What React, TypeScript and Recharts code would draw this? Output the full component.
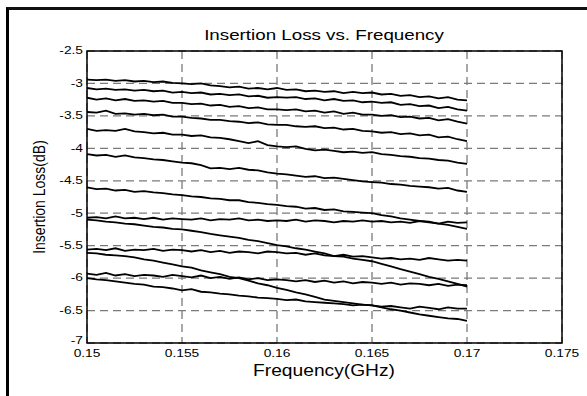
import React from "react"
import {
  LineChart,
  Line,
  XAxis,
  YAxis,
  CartesianGrid,
  ReferenceArea,
} from "recharts"

// frequency points (GHz)
const freqs = [
  0.15, 0.1505, 0.151, 0.1515, 0.152, 0.1525, 0.153, 0.1535, 0.154, 0.1545,
  0.155, 0.1555, 0.156, 0.1565, 0.157, 0.1575, 0.158, 0.1585, 0.159, 0.1595,
  0.16, 0.1605, 0.161, 0.1615, 0.162, 0.1625, 0.163, 0.1635, 0.164, 0.1645,
  0.165, 0.1655, 0.166, 0.1665, 0.167, 0.1675, 0.168, 0.1685, 0.169, 0.1695,
  0.17,
]

const curve1 = [-2.94,-2.95,-2.94,-2.96,-2.95,-2.97,-2.96,-2.98,-2.97,-2.99, -3.00,-3.01,-3.00,-3.03,-3.04,-3.06,-3.05,-3.08,-3.07,-3.09, -3.07,-3.10,-3.09,-3.12,-3.11,-3.13,-3.12,-3.15,-3.13,-3.15, -3.14,-3.17,-3.16,-3.19,-3.18,-3.21,-3.20,-3.23,-3.21,-3.25, -3.26]
const curve2 = [-3.07,-3.09,-3.08,-3.10,-3.09,-3.11,-3.10,-3.12,-3.11,-3.14, -3.13,-3.15,-3.14,-3.17,-3.16,-3.18,-3.17,-3.20,-3.19,-3.22, -3.21,-3.22,-3.21,-3.24,-3.23,-3.26,-3.24,-3.27,-3.26,-3.29, -3.28,-3.30,-3.29,-3.33,-3.32,-3.35,-3.34,-3.38,-3.36,-3.40, -3.42]
const curve3 = [-3.22,-3.25,-3.23,-3.26,-3.24,-3.27,-3.26,-3.28,-3.27,-3.30, -3.30,-3.32,-3.31,-3.34,-3.33,-3.36,-3.35,-3.38,-3.37,-3.40, -3.40,-3.41,-3.40,-3.43,-3.42,-3.45,-3.43,-3.47,-3.45,-3.48, -3.48,-3.50,-3.49,-3.52,-3.51,-3.54,-3.53,-3.57,-3.55,-3.59, -3.62]
const curve4 = [-3.44,-3.45,-3.42,-3.47,-3.46,-3.48,-3.47,-3.49,-3.48,-3.51, -3.51,-3.53,-3.54,-3.56,-3.56,-3.58,-3.59,-3.61,-3.60,-3.63, -3.64,-3.64,-3.66,-3.67,-3.66,-3.69,-3.68,-3.71,-3.70,-3.73, -3.74,-3.76,-3.75,-3.78,-3.77,-3.80,-3.79,-3.83,-3.82,-3.86, -3.89]
const curve5 = [-3.70,-3.73,-3.72,-3.73,-3.70,-3.74,-3.75,-3.77,-3.76,-3.79, -3.79,-3.81,-3.80,-3.83,-3.84,-3.86,-3.89,-3.92,-3.89,-3.95, -3.97,-3.98,-3.97,-4.01,-4.03,-4.02,-4.04,-4.06,-4.05,-4.07, -4.06,-4.09,-4.10,-4.12,-4.13,-4.15,-4.16,-4.18,-4.19,-4.22, -4.24]
const curve6 = [-4.09,-4.11,-4.10,-4.13,-4.11,-4.14,-4.15,-4.17,-4.18,-4.20, -4.22,-4.23,-4.26,-4.31,-4.30,-4.32,-4.30,-4.33,-4.34,-4.37, -4.39,-4.40,-4.42,-4.44,-4.43,-4.46,-4.45,-4.47,-4.49,-4.51, -4.52,-4.53,-4.55,-4.56,-4.58,-4.59,-4.60,-4.62,-4.61,-4.65, -4.67]
const curve7 = [-4.60,-4.63,-4.62,-4.65,-4.64,-4.67,-4.66,-4.68,-4.69,-4.71, -4.72,-4.74,-4.75,-4.77,-4.78,-4.80,-4.80,-4.83,-4.84,-4.86, -4.87,-4.89,-4.90,-4.93,-4.92,-4.95,-4.94,-4.97,-4.98,-4.99, -5.00,-5.03,-5.05,-5.08,-5.10,-5.12,-5.13,-5.16,-5.18,-5.21, -5.24]
const curve8 = [-5.07,-5.06,-5.08,-5.05,-5.08,-5.07,-5.09,-5.07,-5.10,-5.08, -5.09,-5.10,-5.08,-5.11,-5.09,-5.10,-5.08,-5.11,-5.10,-5.12, -5.11,-5.12,-5.10,-5.13,-5.11,-5.12,-5.14,-5.12,-5.13,-5.11, -5.13,-5.12,-5.14,-5.13,-5.15,-5.12,-5.14,-5.16,-5.13,-5.15, -5.14]
const curve9 = [-5.10,-5.11,-5.13,-5.14,-5.16,-5.17,-5.19,-5.21,-5.22,-5.24, -5.25,-5.27,-5.29,-5.32,-5.34,-5.36,-5.38,-5.41,-5.43,-5.46, -5.49,-5.51,-5.54,-5.56,-5.59,-5.62,-5.66,-5.67,-5.70,-5.72, -5.74,-5.78,-5.82,-5.86,-5.90,-5.94,-5.98,-6.01,-6.05,-6.09, -6.13]
const curve10 = [-5.56,-5.55,-5.57,-5.54,-5.58,-5.56,-5.57,-5.55,-5.58,-5.56, -5.57,-5.59,-5.57,-5.60,-5.58,-5.61,-5.59,-5.60,-5.62,-5.59, -5.60,-5.62,-5.61,-5.64,-5.62,-5.65,-5.66,-5.64,-5.67,-5.66, -5.68,-5.70,-5.69,-5.71,-5.70,-5.72,-5.69,-5.71,-5.73,-5.72, -5.73]
const curve11 = [-5.61,-5.62,-5.64,-5.65,-5.66,-5.68,-5.71,-5.73,-5.76,-5.79, -5.82,-5.84,-5.88,-5.91,-5.94,-5.98,-6.00,-6.04,-6.08,-6.11, -6.15,-6.18,-6.22,-6.25,-6.29,-6.33,-6.35,-6.37,-6.39,-6.41, -6.42,-6.45,-6.48,-6.50,-6.53,-6.56,-6.58,-6.60,-6.62,-6.63, -6.66]
const curve12 = [-5.93,-5.95,-5.92,-5.96,-5.94,-5.97,-5.95,-5.96,-5.98,-5.95, -5.97,-5.99,-5.96,-6.00,-5.98,-6.01,-5.99,-6.02,-6.00,-6.03, -6.02,-6.03,-6.05,-6.03,-6.06,-6.04,-6.07,-6.05,-6.08,-6.06, -6.07,-6.09,-6.07,-6.10,-6.08,-6.09,-6.11,-6.09,-6.12,-6.10, -6.11]
const curve13 = [-6.00,-6.02,-6.03,-6.05,-6.07,-6.09,-6.10,-6.13,-6.14,-6.16, -6.19,-6.17,-6.21,-6.22,-6.24,-6.25,-6.27,-6.28,-6.30,-6.31, -6.32,-6.34,-6.33,-6.36,-6.37,-6.38,-6.39,-6.40,-6.42,-6.41, -6.42,-6.44,-6.43,-6.45,-6.47,-6.44,-6.46,-6.48,-6.45,-6.47, -6.47]

const curves = [curve1, curve2, curve3, curve4, curve5, curve6, curve7,
  curve8, curve9, curve10, curve11, curve12, curve13]

const xTicks = [0.15, 0.155, 0.16, 0.165, 0.17, 0.175]
const yTicks = [-7, -6.5, -6, -5.5, -5, -4.5, -4, -3.5, -3, -2.5]

const chartData = freqs.map((f, i) => {
  const row: Record<string, number> = { f }
  curves.forEach((c, k) => {
    row["c" + (k + 1)] = c[i]
  })
  return row
})

const font = "'Liberation Sans', Arial, Helvetica, sans-serif"
const stretch = 1.25

function XTick(props: any) {
  const { x, y, payload } = props
  return (
    <text
      transform={`translate(${x},${y}) scale(${stretch},1)`}
      textAnchor="middle"
      dy="0.71em"
      fontSize={11}
      fontFamily={font}
      fill="#000"
    >
      {payload.value}
    </text>
  )
}

function YTick(props: any) {
  const { x, y, payload } = props
  // bottom label sits a little higher so it clears the first x label
  const dy = payload.value === -7 ? "0.05em" : "0.3em"
  return (
    <text
      transform={`translate(${x},${y}) scale(${stretch},1)`}
      textAnchor="end"
      dy={dy}
      fontSize={11}
      fontFamily={font}
      fill="#000"
    >
      {payload.value}
    </text>
  )
}

export default function App() {
  return (
    <div
      style={{
        position: "absolute",
        left: 0,
        top: 0,
        width: 587,
        height: 396,
        background: "#fff",
        overflow: "hidden",
        fontFamily: font,
      }}
    >
      {/* outer figure frame */}
      <div
        style={{
          position: "absolute",
          left: 6,
          top: 7,
          width: 700,
          height: 500,
          borderLeft: "3px solid #000",
          borderTop: "3px solid #111",
        }}
      />

      <div
        style={{
          position: "absolute",
          left: 0,
          top: 0,
          width: 587,
          height: 396,
        }}
      >
        <LineChart
          width={587}
          height={396}
          data={chartData}
          margin={{ top: 51, right: 25, bottom: 23, left: 37 }}
        >
          <CartesianGrid
            stroke="#7a7a7a"
            strokeWidth={1.3}
            strokeDasharray="8 5"
          />
          <XAxis
            dataKey="f"
            type="number"
            domain={[0.15, 0.175]}
            ticks={xTicks}
            tick={<XTick />}
            tickLine={false}
            tickSize={0}
            tickMargin={6}
            height={30}
            axisLine={false}
            allowDataOverflow
          />
          <YAxis
            type="number"
            domain={[-7, -2.5]}
            ticks={yTicks}
            tick={<YTick />}
            tickLine={false}
            tickSize={0}
            tickMargin={4}
            width={50}
            axisLine={false}
            allowDataOverflow
          />
          {curves.map((_, k) => (
            <Line
              key={k}
              type="linear"
              dataKey={"c" + (k + 1)}
              stroke="#000"
              strokeWidth={1.8}
              dot={false}
              isAnimationActive={false}
            />
          ))}
          <ReferenceArea
            x1={0.15}
            x2={0.175}
            y1={-7}
            y2={-2.5}
            fill="none"
            fillOpacity={0}
            stroke="#000"
            strokeWidth={1.5}
          />
        </LineChart>
      </div>

      {/* title */}
      <div
        style={{
          position: "absolute",
          left: 324,
          top: 34,
          transform: `translate(-50%, -50%) scaleX(${stretch})`,
          fontSize: 15,
          whiteSpace: "nowrap",
          color: "#000",
        }}
      >
        Insertion Loss vs. Frequency
      </div>

      {/* x axis label */}
      <div
        style={{
          position: "absolute",
          left: 324,
          top: 371,
          transform: `translate(-50%, -50%) scaleX(1.2)`,
          fontSize: 16,
          whiteSpace: "nowrap",
          color: "#000",
        }}
      >
        Frequency(GHz)
      </div>

      {/* y axis label */}
      <div
        style={{
          position: "absolute",
          left: 39,
          top: 197,
          transform: "translate(-50%, -50%) rotate(-90deg) scaleY(1.2)",
          fontSize: 14,
          whiteSpace: "nowrap",
          color: "#000",
        }}
      >
        Insertion Loss(dB)
      </div>
    </div>
  )
}
